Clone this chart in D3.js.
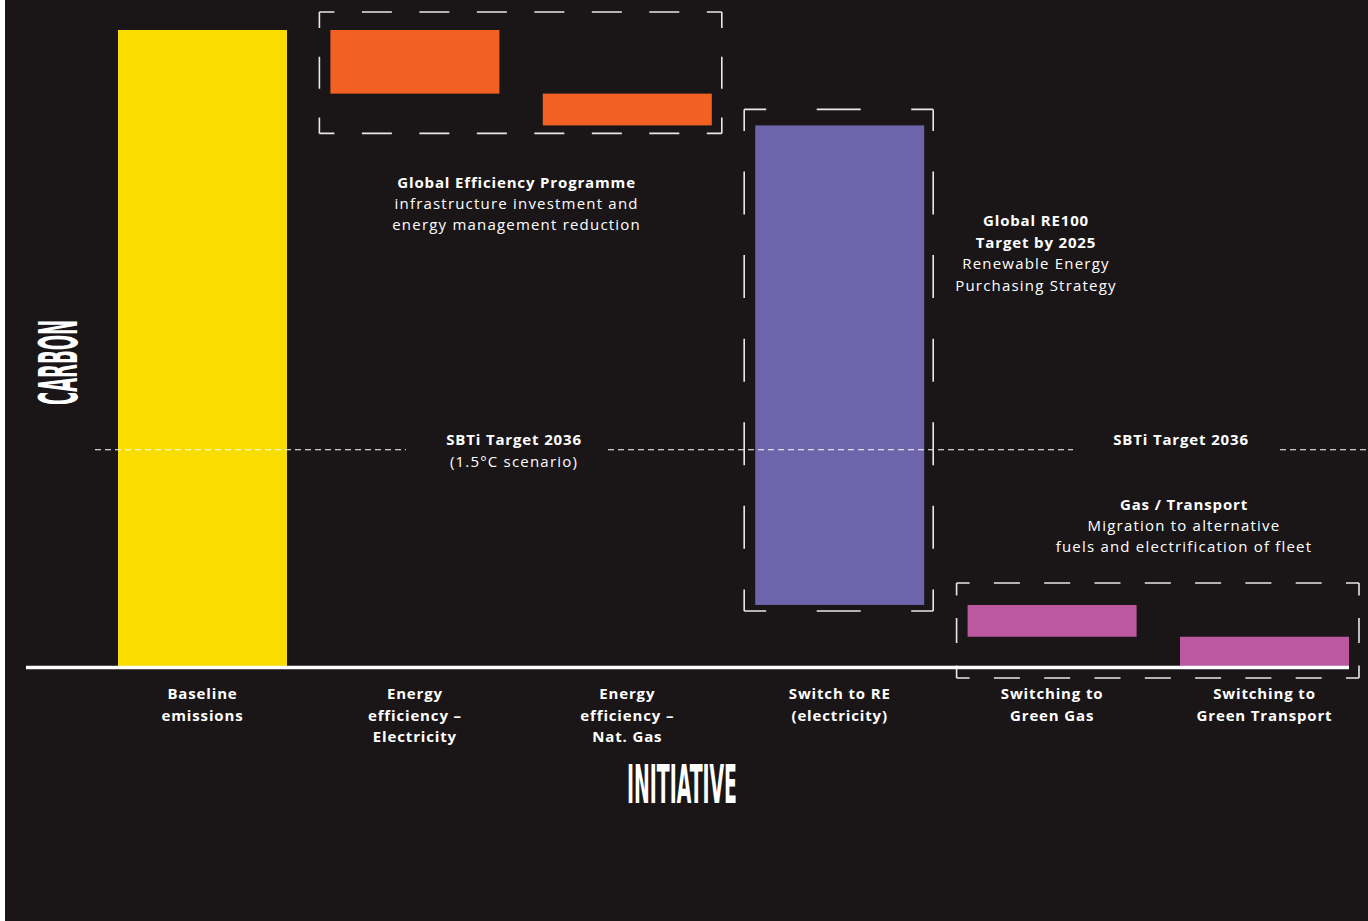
<!DOCTYPE html>
<html><head><meta charset="utf-8">
<script src="https://cdn.jsdelivr.net/npm/d3@7"></script>
<style>
html,body{margin:0;padding:0;background:#ffffff;}
svg{display:block;}
</style></head>
<body>
<script>
// ---------- data ----------
const categories = ["Baseline emissions","Energy efficiency – Electricity","Energy efficiency – Nat. Gas","Switch to RE (electricity)","Switching to Green Gas","Switching to Green Transport"];
const categoryLabels = [["Baseline","emissions"],["Energy","efficiency –","Electricity"],["Energy","efficiency –","Nat. Gas"],["Switch to RE","(electricity)"],["Switching to","Green Gas"],["Switching to","Green Transport"]];
const changes = [100, -10, -5, -75.4, -5, -4.6];
const barColors = ["#f9dd00","#f26122","#f26122","#6e64ab","#bb589f","#bb589f"];
const sbtiValue = 34;
const groups = [
  {from:1, to:2, lines:[["Global Efficiency Programme",true],["infrastructure investment and",false],["energy management reduction",false]]},
  {from:3, to:3, lines:[["Global RE100",true],["Target by 2025",true],["Renewable Energy",false],["Purchasing Strategy",false]]},
  {from:4, to:5, lines:[["Gas / Transport",true],["Migration to alternative",false],["fuels and electrification of fleet",false]]}
];
const sbtiLabels = [[["SBTi Target 2036",true],["(1.5°C scenario)",false]],[["SBTi Target 2036",true]]];
const yTitle = "CARBON", xTitle = "INITIATIVE";

// ---------- build ----------
const W = 1368, H = 921;
const svg = d3.select("body").append("svg").attr("width", W).attr("height", H);
svg.append("rect").attr("x",5).attr("y",0).attr("width",W-5).attr("height",H).attr("fill","#1a1617");

const x = d3.scaleBand().domain(categories).range([118,1349]).paddingInner(0.2043).paddingOuter(0);
const y = d3.scaleLinear().domain([0,100]).range([666,30]);

// waterfall
let run = 0;
const bars = changes.map((v,i)=>{
  const start = run; run += v;
  return {cat:categories[i], lo:Math.min(start,run), hi:Math.max(start,run), color:barColors[i]};
});
bars[0].lo = 0;

const FONT = "'Open Sans', 'Noto Sans', sans-serif";
const CFONT = "'Liberation Sans Narrow','DejaVu Sans Condensed','DejaVu Sans',sans-serif";
const FS = 15, LS_B = 0.85, LS_R = 1.2;

// SBTi dashed line (segments broken where labels sit)
const ySb = y(sbtiValue);
const sbSegs = [[95,406],[608,1073],[1280,W]];

// bars
svg.append("g").selectAll("rect").data(bars).join("rect")
  .attr("x",d=>x(d.cat)).attr("width",x.bandwidth())
  .attr("y",d=>y(d.hi)).attr("height",d=>y(d.lo)-y(d.hi))
  .attr("fill",d=>d.color);
svg.append("g").selectAll("line").data(sbSegs).join("line")
  .attr("x1",d=>d[0]).attr("x2",d=>d[1]).attr("y1",ySb).attr("y2",ySb)
  .attr("stroke","#ffffff").attr("stroke-width",1.2).attr("stroke-dasharray","6,4");

// dashed group boxes
function dashedSide(g, x1,y1,x2,y2, n, dash){
  const L = Math.hypot(x2-x1,y2-y1);
  const period = L/n, gap = period-dash;
  g.append("line").attr("x1",x1).attr("y1",y1).attr("x2",x2).attr("y2",y2)
    .attr("stroke","#e8e8e8").attr("stroke-width",1.6)
    .attr("stroke-dasharray",`${dash},${gap}`).attr("stroke-dashoffset",dash/2);
}
const boxSpecs = [
  {pad:[11,18,10,8], nH:7, dH:30, nV:2, dV:32},
  {pad:[11,16,9,6], nH:2, dH:44, nV:6, dV:43},
  {pad:[11,22,10,12], nH:8, dH:26, nV:2, dV:25}
];
const boxG = svg.append("g");
groups.forEach((gr,i)=>{
  const s = boxSpecs[i];
  const bs = bars.slice(gr.from, gr.to+1);
  const l = x(categories[gr.from]) - s.pad[0];
  const r = x(categories[gr.to]) + x.bandwidth() + s.pad[2];
  const t = y(d3.max(bs,d=>d.hi)) - s.pad[1];
  const b = y(d3.min(bs,d=>d.lo)) + s.pad[3];
  gr.box = {l,r,t,b};
  dashedSide(boxG,l,t,r,t,s.nH,s.dH);
  dashedSide(boxG,l,b,r,b,s.nH,s.dH);
  dashedSide(boxG,l,t,l,b,s.nV,s.dV);
  dashedSide(boxG,r,t,r,b,s.nV,s.dV);
});

// baseline
svg.append("line").attr("x1",26).attr("x2",x.range()[1]).attr("y1",y(0)+1.5).attr("y2",y(0)+1.5)
  .attr("stroke","#ffffff").attr("stroke-width",3.5);

// x axis with multi-line labels
const ax = svg.append("g").attr("transform",`translate(0,${y(0)})`)
  .call(d3.axisBottom(x).tickSize(0).tickFormat(""));
ax.select(".domain").remove();
ax.selectAll(".tick").each(function(d,i){
  const t = d3.select(this).append("text").attr("fill","#fff").attr("text-anchor","middle")
    .attr("font-family",FONT).attr("font-weight",700).attr("font-size",FS).attr("letter-spacing",LS_B);
  categoryLabels[i].forEach((ln,k)=>t.append("tspan").attr("x",0).attr("y",33+k*21.5).text(ln));
});

// annotations
function block(cx, y0, lines, lh){
  const t = svg.append("text").attr("text-anchor","middle").attr("fill","#fff")
    .attr("font-family",FONT).attr("font-size",FS);
  lines.forEach((ln,k)=>t.append("tspan").attr("x",cx).attr("y",y0+k*lh)
    .attr("font-weight",ln[1]?700:400).attr("letter-spacing",ln[1]?LS_B:LS_R).text(ln[0]));
}
const g0 = groups[0].box, g2 = groups[2].box;
block((g0.l+g0.r)/2-4, g0.b+55, groups[0].lines, 21);
block(1036, y(85)+101, groups[1].lines, 21.5);
block(1184, g2.t-73, groups[2].lines, 21);
block(514, ySb-5, sbtiLabels[0], 22);
block(1181, ySb-5, sbtiLabels[1], 22);

// axis titles
svg.append("text").attr("x",682).attr("y",803).attr("text-anchor","middle")
  .attr("fill","#fff").attr("font-family",CFONT).attr("font-weight",700).attr("font-size",53)
  .attr("textLength",110).attr("lengthAdjust","spacingAndGlyphs").text(xTitle);
svg.append("text").attr("transform","translate(77,362.5) rotate(-90)").attr("text-anchor","middle")
  .attr("fill","#fff").attr("font-family",CFONT).attr("font-weight",700).attr("font-size",53)
  .attr("textLength",85).attr("lengthAdjust","spacingAndGlyphs").text(yTitle);
</script>
</body></html>
